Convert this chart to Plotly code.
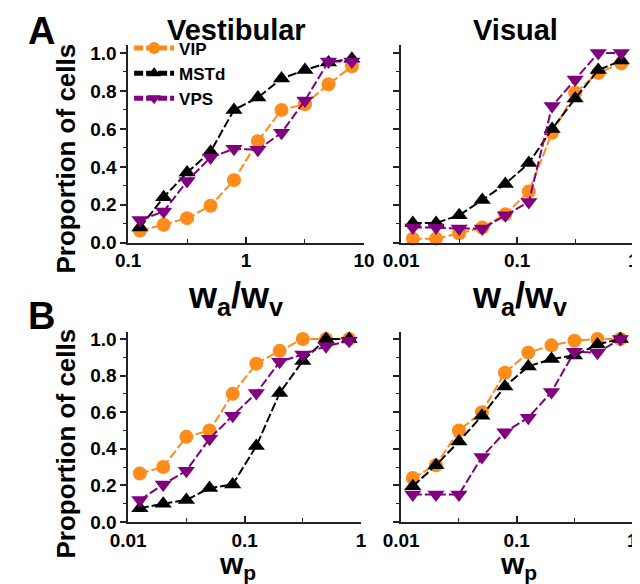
import plotly.graph_objects as go

# ---------------- data ----------------
series_names = ["VIP", "MSTd", "VPS"]
series_colors = ["#FF8C1A", "#000000", "#800080"]
series_symbols = ["circle", "triangle-up", "triangle-down"]

x_A_vest = [0.126, 0.2, 0.316, 0.5, 0.79, 1.26, 2.0, 3.16, 5.0, 7.9]
x_A_vis = [0.0126, 0.02, 0.0316, 0.05, 0.079, 0.126, 0.2, 0.316, 0.5, 0.79]
x_B = [0.0126, 0.02, 0.0316, 0.05, 0.079, 0.126, 0.2, 0.316, 0.5, 0.79]

A_vest_VIP = [0.065, 0.095, 0.13, 0.195, 0.33, 0.535, 0.70, 0.73, 0.835, 0.93]
A_vest_MSTd = [0.08, 0.24, 0.37, 0.48, 0.70, 0.765, 0.865, 0.91, 0.95, 0.97]
A_vest_VPS = [0.12, 0.165, 0.325, 0.45, 0.495, 0.49, 0.58, 0.75, 0.955, 0.955]

A_vis_VIP = [0.022, 0.022, 0.05, 0.08, 0.15, 0.27, 0.58, 0.79, 0.895, 0.945]
A_vis_MSTd = [0.105, 0.105, 0.145, 0.225, 0.31, 0.42, 0.60, 0.76, 0.91, 0.96]
A_vis_VPS = [0.08, 0.08, 0.075, 0.075, 0.145, 0.215, 0.72, 0.86, 1.0, 1.0]

B_vest_VIP = [0.265, 0.30, 0.465, 0.50, 0.70, 0.865, 0.935, 1.0, 1.0, 1.0]
B_vest_MSTd = [0.075, 0.10, 0.12, 0.185, 0.205, 0.415, 0.705, 0.88, 1.0, 1.0]
B_vest_VPS = [0.12, 0.205, 0.28, 0.455, 0.58, 0.705, 0.875, 0.915, 0.96, 0.99]

B_vis_VIP = [0.24, 0.31, 0.50, 0.60, 0.815, 0.925, 0.965, 0.99, 1.0, 1.0]
B_vis_MSTd = [0.195, 0.31, 0.44, 0.58, 0.74, 0.85, 0.89, 0.91, 0.97, 1.0]
B_vis_VPS = [0.15, 0.15, 0.15, 0.355, 0.49, 0.57, 0.71, 0.93, 0.925, 1.0]

y_tickvals = [0.0, 0.2, 0.4, 0.6, 0.8, 1.0]
y_ticktext = ["0.0", "0.2", "0.4", "0.6", "0.8", "1.0"]
y_minor = [0.1, 0.3, 0.5, 0.7, 0.9]

panel_titles = ["Vestibular", "Visual"]
panel_letters = ["A", "B"]
y_title = "Proportion of cells"
x_title_A = "w<sub>a</sub>/w<sub>v</sub>"
x_title_B = "w<sub>p</sub>"

# ---------------- figure ----------------
FONT = "Liberation Sans, Arial, sans-serif"
fig = go.Figure()

panels = [
    ("x", "y", x_A_vest, [A_vest_VIP, A_vest_MSTd, A_vest_VPS], True),
    ("x2", "y2", x_A_vis, [A_vis_VIP, A_vis_MSTd, A_vis_VPS], False),
    ("x3", "y3", x_B, [B_vest_VIP, B_vest_MSTd, B_vest_VPS], False),
    ("x4", "y4", x_B, [B_vis_VIP, B_vis_MSTd, B_vis_VPS], False),
]

for xa, ya, xs, ys_list, show in panels:
    for name, color, sym, ys in zip(series_names, series_colors, series_symbols, ys_list):
        fig.add_trace(go.Scatter(
            x=xs, y=ys, xaxis=xa, yaxis=ya, name=name, showlegend=show,
            mode="lines+markers",
            line=dict(color=color, width=2, dash="9px,3px"),
            marker=dict(color=color, symbol=sym, size=14 if sym == "circle" else 15,
                        line=dict(width=0)),
            cliponaxis=False,
        ))

W, H = 640, 584
def px_x(a, b):
    return [a / W, b / W]
def px_y(top, bottom):
    return [1 - bottom / H, 1 - top / H]

TICKFONT = dict(family=FONT, size=19, color="black", weight="bold")
axis_common = dict(
    type="log", showgrid=False, zeroline=False, showline=True,
    linecolor="#222", linewidth=1.5, ticks="inside", ticklen=6, tickwidth=1.5,
    tickcolor="#222", mirror=False, ticklabeloverflow="allow",
    tickfont=TICKFONT,
)
yaxis_common = dict(
    range=[0, 1.04], showgrid=False, zeroline=False, showline=True,
    linecolor="#222", linewidth=1.5, ticks="outside", ticklen=6, tickwidth=1.5,
    tickcolor="#222", tickvals=y_tickvals, ticktext=y_ticktext,
    minor=dict(tickvals=y_minor, ticks="outside", ticklen=3, tickcolor="#222", tickwidth=1.2),
    tickfont=TICKFONT,
)
xminor = dict(ticks="inside", ticklen=4, tickcolor="#222", tickwidth=1.2)

fig.update_layout(
    width=W, height=H, margin=dict(l=0, r=0, t=0, b=0),
    paper_bgcolor="white", plot_bgcolor="white",
    font=dict(family=FONT, color="black", weight="bold"),
    xaxis=dict(axis_common, domain=px_x(107, 354), range=[-1, 1], anchor="y",
               tickvals=[0.1, 1, 10], ticktext=["0.1", "1", "10"],
               minor=dict(xminor, tickvals=[0.316, 3.16])),
    yaxis=dict(yaxis_common, domain=px_y(35.2, 237.5), anchor="x"),
    xaxis2=dict(axis_common, domain=px_x(393, 636), range=[-2, 0], anchor="y2",
                tickvals=[0.01, 0.1, 1], ticktext=["0.01", "0.1", "1"],
                minor=dict(xminor, tickvals=[0.0316, 0.316])),
    yaxis2=dict(yaxis_common, domain=px_y(35.2, 237.5), anchor="x2", showticklabels=False),
    xaxis3=dict(axis_common, domain=px_x(107, 351), range=[-2, 0], anchor="y3",
                tickvals=[0.01, 0.1, 1], ticktext=["0.01", "0.1", "1"],
                minor=dict(xminor, tickvals=[0.0316, 0.316])),
    yaxis3=dict(yaxis_common, domain=px_y(328.5, 523.5), anchor="x3"),
    xaxis4=dict(axis_common, domain=px_x(393, 635), range=[-2, 0], anchor="y4",
                tickvals=[0.01, 0.1, 1], ticktext=["0.01", "0.1", "1"],
                minor=dict(xminor, tickvals=[0.0316, 0.316])),
    yaxis4=dict(yaxis_common, domain=px_y(328.5, 523.5), anchor="x4", showticklabels=False),
    legend=dict(x=108 / W, y=1 - 20 / H, xanchor="left", yanchor="top",
                bgcolor="rgba(0,0,0,0)", font=dict(family=FONT, size=17, weight="bold"),
                itemsizing="constant", tracegroupgap=0, itemwidth=40),
)

ann = []
# panel titles
ann.append(dict(text=panel_titles[0], x=221 / W, y=1 - 19 / H, font=dict(size=29)))
ann.append(dict(text=panel_titles[1], x=513 / W, y=1 - 19 / H, font=dict(size=29)))
# letters
ann.append(dict(text=panel_letters[0], x=16 / W, y=1 - 21 / H, font=dict(size=38)))
ann.append(dict(text=panel_letters[1], x=16 / W, y=1 - 312 / H, font=dict(size=38)))
# y titles
ann.append(dict(text=y_title, x=42 / W, y=1 - 151 / H, textangle=-90, font=dict(size=26)))
ann.append(dict(text=y_title, x=42 / W, y=1 - 443 / H, textangle=-90, font=dict(size=26)))
# x titles
ann.append(dict(text=x_title_A, x=219 / W, y=1 - 294 / H, font=dict(size=36)))
ann.append(dict(text=x_title_A, x=517 / W, y=1 - 294 / H, font=dict(size=36)))
ann.append(dict(text=x_title_B, x=222 / W, y=1 - 568 / H, font=dict(size=30)))
ann.append(dict(text=x_title_B, x=516 / W, y=1 - 568 / H, font=dict(size=30)))

for a in ann:
    a.update(xref="paper", yref="paper", showarrow=False, xanchor="center", yanchor="middle")
    a["font"].update(family=FONT, color="black", weight="bold")
fig.update_layout(annotations=ann)

fig.write_html("out.html")
